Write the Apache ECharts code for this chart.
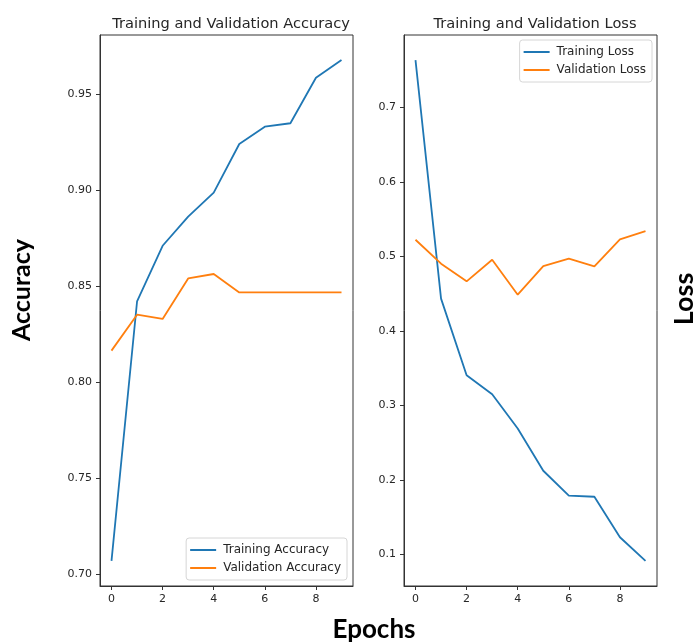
<!DOCTYPE html>
<html>
<head>
<meta charset="utf-8">
<script src="https://cdn.jsdelivr.net/npm/echarts@6/dist/echarts.min.js"></script>
<style>
  html, body { margin: 0; padding: 0; background: #fff; }
  #chart { width: 697px; height: 644px; }
</style>
</head>
<body>
<div id="chart"></div>
<script>
// Epoch indices and per-epoch training history
const epochs = [0, 1, 2, 3, 4, 5, 6, 7, 8, 9];
const trainAcc = [0.7069, 0.8420, 0.8710, 0.8862, 0.8987, 0.9240, 0.9330, 0.9348, 0.9585, 0.9677];
const valAcc   = [0.8164, 0.8351, 0.8329, 0.8540, 0.8563, 0.8467, 0.8467, 0.8467, 0.8467, 0.8467];
const trainLoss = [0.7635, 0.4432, 0.3404, 0.3149, 0.2689, 0.2121, 0.1786, 0.1772, 0.1228, 0.0910];
const valLoss   = [0.5222, 0.4901, 0.4664, 0.4954, 0.4485, 0.4869, 0.4968, 0.4865, 0.5227, 0.5338];

// Tick labels
const xTicks = [0, 2, 4, 6, 8];
const accTicks = [0.70, 0.75, 0.80, 0.85, 0.90, 0.95];
const lossTicks = [0.1, 0.2, 0.3, 0.4, 0.5, 0.6, 0.7];

const BLUE = '#1f77b4';
const ORANGE = '#ff7f0e';
const TICK_FONT = { fontFamily: 'DejaVu Sans', fontSize: 11, color: '#262626' };

function pairs(xs, ys) { return xs.map((x, i) => [x, ys[i]]); }

// matplotlib-style 5% data margins
function padRange(arrs) {
  const all = [].concat(...arrs);
  const lo = Math.min(...all), hi = Math.max(...all);
  const m = (hi - lo) * 0.05;
  return [lo - m, hi + m];
}
const xr = padRange([epochs]);
const accR = padRange([trainAcc, valAcc]);
const lossR = padRange([trainLoss, valLoss]);

function xAxis(gi) {
  return {
    type: 'value', gridIndex: gi, min: xr[0], max: xr[1],
    splitLine: { show: false },
    axisLine: { show: true, onZero: false, lineStyle: { color: '#333', width: 1 } },
    axisTick: { show: true, length: 4, customValues: xTicks, lineStyle: { color: '#333' } },
    axisLabel: Object.assign({ customValues: xTicks, margin: 8, formatter: v => String(v) }, TICK_FONT)
  };
}
function yAxis(gi, r, ticks, digits) {
  return {
    type: 'value', gridIndex: gi, min: r[0], max: r[1],
    splitLine: { show: false },
    axisLine: { show: true, onZero: false, lineStyle: { color: '#333', width: 1 } },
    axisTick: { show: true, length: 4, customValues: ticks, lineStyle: { color: '#333' } },
    axisLabel: Object.assign({ customValues: ticks, margin: 8, formatter: v => v.toFixed(digits) }, TICK_FONT)
  };
}
function line(name, xi, data, color) {
  return {
    name, type: 'line', xAxisIndex: xi, yAxisIndex: xi,
    data, showSymbol: false, symbol: 'none',
    lineStyle: { color, width: 1.8 }, itemStyle: { color },
    animation: false
  };
}
function legend(names, pos) {
  return Object.assign({
    data: names, orient: 'vertical', icon: 'rect',
    itemWidth: 26, itemHeight: 2, itemGap: 6,
    padding: [6, 6, 6, 4],
    borderColor: '#d6d6d6', borderWidth: 1, borderRadius: 3,
    backgroundColor: 'rgba(255,255,255,0.85)',
    textStyle: { fontFamily: 'DejaVu Sans', fontSize: 12, color: '#262626', padding: [0, 0, 0, 2] }
  }, pos);
}

const chart = echarts.init(document.getElementById('chart'), null, { renderer: 'canvas' });
chart.setOption({
  backgroundColor: '#fff',
  animation: false,
  title: [
    { text: 'Training and Validation Accuracy', left: 226, top: 12, textAlign: 'center',
      textStyle: { fontFamily: 'DejaVu Sans', fontSize: 14.6, fontWeight: 'normal', color: '#262626' } },
    { text: 'Training and Validation Loss', left: 530, top: 12, textAlign: 'center',
      textStyle: { fontFamily: 'DejaVu Sans', fontSize: 14.6, fontWeight: 'normal', color: '#262626' } }
  ],
  grid: [
    { left: 100, top: 35, width: 253, height: 551, show: true, borderColor: '#333', borderWidth: 1 },
    { left: 404, top: 35, width: 253, height: 551, show: true, borderColor: '#333', borderWidth: 1 }
  ],
  xAxis: [xAxis(0), xAxis(1)],
  yAxis: [yAxis(0, accR, accTicks, 2), yAxis(1, lossR, lossTicks, 1)],
  legend: [
    legend(['Training Accuracy', 'Validation Accuracy'], { right: 350, bottom: 64 }),
    legend(['Training Loss', 'Validation Loss'], { right: 45, top: 40 })
  ],
  series: [
    line('Training Accuracy', 0, pairs(epochs, trainAcc), BLUE),
    line('Validation Accuracy', 0, pairs(epochs, valAcc), ORANGE),
    line('Training Loss', 1, pairs(epochs, trainLoss), BLUE),
    line('Validation Loss', 1, pairs(epochs, valLoss), ORANGE)
  ],
  graphic: [
    { type: 'text', x: 22, y: 290, rotation: Math.PI / 2,
      style: { text: 'Accuracy', fontFamily: 'Lato', fontWeight: 'bold', fontSize: 25, fill: '#000',
               align: 'center', verticalAlign: 'middle' } },
    { type: 'text', x: 374, y: 630,
      style: { text: 'Epochs', fontFamily: 'Lato', fontWeight: 'bold', fontSize: 26, fill: '#000',
               align: 'center', verticalAlign: 'middle' } },
    { type: 'text', x: 684, y: 299, rotation: Math.PI / 2,
      style: { text: 'Loss', fontFamily: 'Lato', fontWeight: 'bold', fontSize: 27, fill: '#000',
               align: 'center', verticalAlign: 'middle' } }
  ]
});
</script>
</body>
</html>
